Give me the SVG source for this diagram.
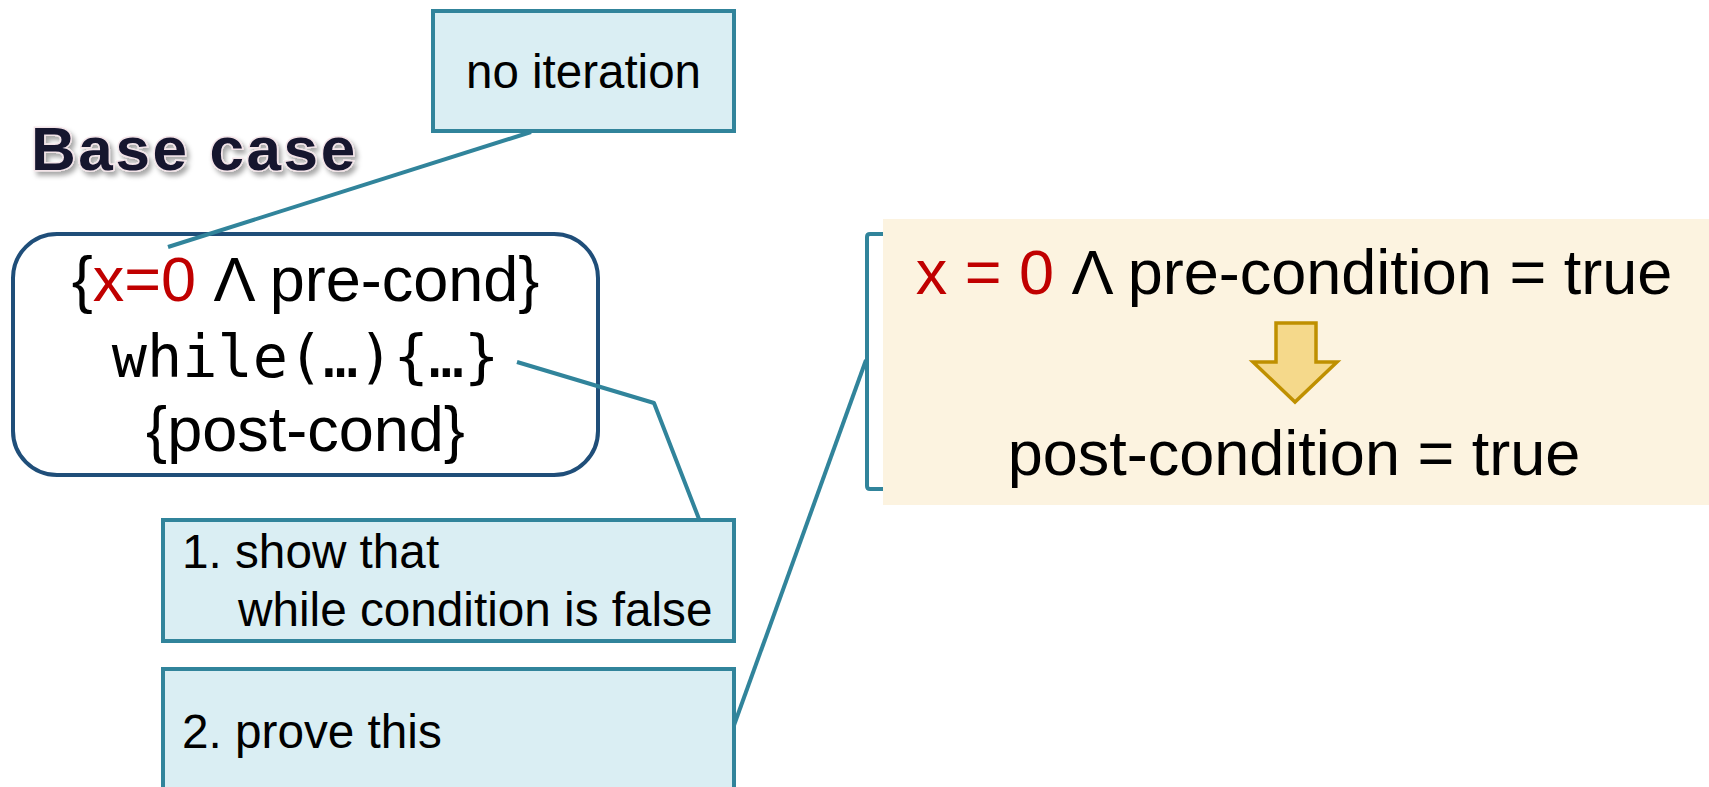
<svg xmlns="http://www.w3.org/2000/svg" width="1709" height="787" viewBox="0 0 1709 787">
  <style>
    .sans { font-family: "Liberation Sans", Arial, sans-serif; fill: #000; }
    .mono { font-family: "DejaVu Sans Mono", "Liberation Mono", monospace; fill: #000; }
    .red { fill: #C00000; }
    .callout { fill: #DAEEF3; stroke: #31849B; stroke-width: 4; }
    .conn { fill: none; stroke: #31849B; stroke-width: 4; stroke-linejoin: round; }
  </style>
  <defs>
    <filter id="glow" x="-10%" y="-30%" width="120%" height="160%">
      <feDropShadow dx="3" dy="4" stdDeviation="2.5" flood-color="#000" flood-opacity="0.35"/>
    </filter>
  </defs>
  <rect width="1709" height="787" fill="#FFFFFF"/>

  <g id="title">
    <text x="31" y="170" class="sans" font-size="62" font-weight="bold" letter-spacing="2.6" stroke="#F3E4E8" stroke-width="3" paint-order="stroke" filter="url(#glow)" style="fill:#12122E">Base case</text>
  </g>

  <g id="result">
    <rect x="883" y="219" width="830" height="286" fill="#FCF3E0"/>
    <text x="1294" y="294" class="sans" font-size="63" text-anchor="middle"><tspan class="red">x = 0</tspan> Λ pre-condition = true</text>
    <path d="M1276 323 H1316 V362 H1337 L1295 402 L1253 362 H1276 Z" fill="#F5D98B" stroke="#BF9000" stroke-width="3.5" stroke-linejoin="miter"/>
    <text x="1294" y="475" class="sans" font-size="63" text-anchor="middle">post-condition = true</text>
  </g>

  <g id="bracket">
    <path class="conn" d="M883 234 H870 Q867 234 867 237 V486 Q867 489 870 489 H883"/>
  </g>

  <g id="program">
    <rect x="13" y="234" width="585" height="241" rx="44" ry="44" fill="#FFFFFF" stroke="#1F4E79" stroke-width="4"/>
    <text x="305.5" y="301" class="sans" font-size="63" text-anchor="middle">{<tspan class="red">x=0</tspan> Λ pre-cond}</text>
    <text x="305.5" y="377" class="mono" font-size="58.5" text-anchor="middle">while(…){…}</text>
    <text x="305.5" y="451" class="sans" font-size="63" text-anchor="middle">{post-cond}</text>
  </g>

  <g id="connectors">
    <line class="conn" x1="531" y1="132" x2="168" y2="247"/>
    <polyline class="conn" points="517,362 654,403 699,519"/>
    <line class="conn" x1="733" y1="728" x2="866" y2="360"/>
  </g>

  <g id="no-iteration">
    <rect class="callout" x="433" y="11" width="301" height="120"/>
    <text x="583.5" y="88" class="sans" font-size="47.5" text-anchor="middle">no iteration</text>
  </g>

  <g id="step1">
    <rect class="callout" x="163" y="520" width="571" height="121"/>
    <text x="182" y="568" class="sans" font-size="47.7">1. show that</text>
    <text x="238" y="626" class="sans" font-size="47.7">while condition is false</text>
  </g>

  <g id="step2">
    <rect class="callout" x="163" y="669" width="571" height="140"/>
    <text x="182" y="748" class="sans" font-size="47.7">2. prove this</text>
  </g>
</svg>
